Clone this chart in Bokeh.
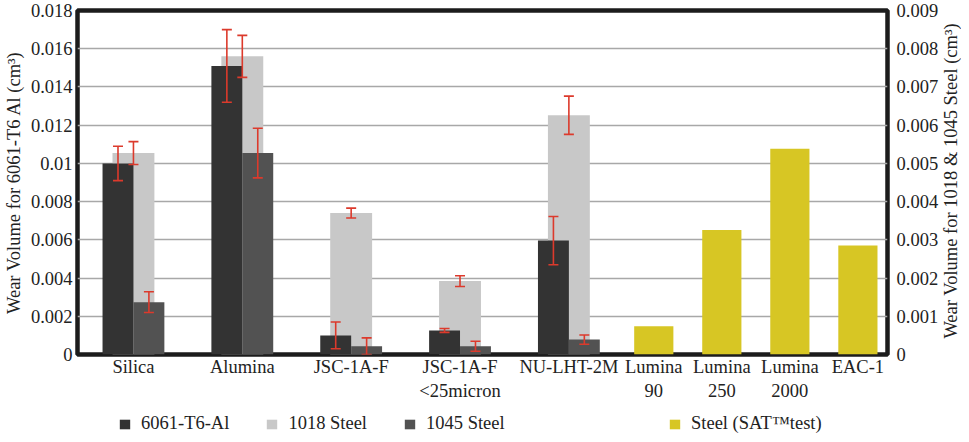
import math
from bokeh.plotting import figure
from bokeh.layouts import column, row
from bokeh.models import (ColumnDataSource, Range1d, LinearAxis, FixedTicker, Whisker,
                          TeeHead, Legend, LegendItem)
from bokeh.core.properties import value
from bokeh.embed import file_html
from bokeh.resources import INLINE

# ---------------- data ----------------
categories = ["Silica", "Alumina", "JSC-1A-F", "JSC-1A-F\n<25micron", "NU-LHT-2M"]
sat_categories = ["Lumina\n90", "Lumina\n250", "Lumina\n2000", "EAC-1"]

al6061 = [0.0100, 0.0151, 0.0010, 0.00126, 0.00596]          # left axis
al6061_err = [0.0009, 0.0019, 0.0007, 0.0001, 0.00126]
st1018 = [0.00527, 0.0078, 0.0037, 0.00192, 0.00626]          # right axis
st1018_err = [0.0003, 0.00055, 0.00013, 0.00014, 0.0005]
st1045 = [0.00137, 0.00527, 0.000215, 0.000215, 0.00039]      # right axis
st1045_err = [0.00027, 0.00065, 0.00022, 0.00013, 0.00012]
sat_steel = [0.00074, 0.00326, 0.00538, 0.00285]              # right axis

left_ticks = [0, 0.002, 0.004, 0.006, 0.008, 0.010, 0.012, 0.014, 0.016, 0.018]
left_tick_labels = ["0", "0.002", "0.004", "0.006", "0.008", "0.01", "0.012", "0.014", "0.016", "0.018"]
right_ticks = [0, 0.001, 0.002, 0.003, 0.004, 0.005, 0.006, 0.007, 0.008, 0.009]
right_tick_labels = ["0", "0.001", "0.002", "0.003", "0.004", "0.005", "0.006", "0.007", "0.008", "0.009"]

legend_labels = ["6061-T6-Al", "1018 Steel", "1045 Steel", "Steel (SAT\u2122test)"]
left_title = "Wear Volume for 6061-T6 Al (cm\u00b3)"
right_title = "Wear Volume for 1018 & 1045 Steel (cm\u00b3)"

# ---------------- layout / style ----------------
FONT = "Liberation Serif"
FS = "18.5px"
TXT = "#222222"
C_AL, C_1018, C_1045, C_SAT = "#333333", "#c8c8c8", "#525252", "#d7c624"
RED = "#dc3a2c"

min_x = [round(i * 1.0, 3) for i in range(len(categories))]
sat_x = [round(4.78 + 0.625 * j, 3) for j in range(len(sat_categories))]
half = 0.142

src_min = ColumnDataSource(dict(
    x=min_x,
    x_al=[v - half for v in min_x],
    x_45=[v + half for v in min_x],
    al=al6061, al_lo=[a - e for a, e in zip(al6061, al6061_err)], al_hi=[a + e for a, e in zip(al6061, al6061_err)],
    s18=st1018, s18_lo=[a - e for a, e in zip(st1018, st1018_err)], s18_hi=[a + e for a, e in zip(st1018, st1018_err)],
    s45=st1045, s45_lo=[max(0, a - e) for a, e in zip(st1045, st1045_err)], s45_hi=[a + e for a, e in zip(st1045, st1045_err)],
))
src_sat = ColumnDataSource(dict(x=sat_x, v=sat_steel))

P_W, P_H = 941, 412
p = figure(width=P_W, height=P_H, output_backend="svg", toolbar_location=None,
           x_range=Range1d(-0.514, 6.927), y_range=Range1d(0, 0.018),
           min_border_top=10, min_border_bottom=58, min_border_left=76, min_border_right=53)
p.extra_y_ranges = {"steel": Range1d(0, 0.009)}

p.background_fill_color = "white"
p.outline_line_color = "#1c1c1c"
p.outline_line_width = 4.5

p.xgrid.visible = False
p.ygrid.ticker = FixedTicker(ticks=left_ticks)
p.ygrid.grid_line_color = "#a8a8a8"
p.ygrid.grid_line_width = 1.4

r18 = p.vbar(x="x", top="s18", width=0.385, source=src_min, fill_color=C_1018, line_color=None,
             y_range_name="steel")
ral = p.vbar(x="x_al", top="al", width=0.284, source=src_min, fill_color=C_AL, line_color=None)
r45 = p.vbar(x="x_45", top="s45", width=0.284, source=src_min, fill_color=C_1045, line_color=None,
             y_range_name="steel")
rsat = p.vbar(x="x", top="v", width=0.36, source=src_sat, fill_color=C_SAT, line_color=None,
              y_range_name="steel")

def add_whisker(base, lo, hi, yr):
    kw = dict(source=src_min, base=base, lower=lo, upper=hi, line_color=RED, line_width=1.6,
              upper_head=TeeHead(size=10, line_color=RED, line_width=1.6),
              lower_head=TeeHead(size=10, line_color=RED, line_width=1.6),
              level="overlay")
    if yr:
        kw["y_range_name"] = yr
    p.add_layout(Whisker(**kw))

add_whisker("x_al", "al_lo", "al_hi", None)
add_whisker("x", "s18_lo", "s18_hi", "steel")
add_whisker("x_45", "s45_lo", "s45_hi", "steel")

def style_axis(ax):
    ax.axis_line_color = None
    ax.major_tick_line_color = None
    ax.minor_tick_line_color = None
    ax.major_tick_out = 0
    ax.major_tick_in = 0
    ax.minor_tick_out = 0
    ax.minor_tick_in = 0
    ax.major_label_text_font = FONT
    ax.major_label_text_font_size = FS
    ax.major_label_text_color = TXT
    ax.axis_label_text_font = FONT
    ax.axis_label_text_font_size = FS
    ax.axis_label_text_font_style = "normal"
    ax.axis_label_text_color = TXT

ya = p.yaxis[0]
ya.ticker = FixedTicker(ticks=left_ticks)
ya.major_label_overrides = dict(zip(left_ticks, left_tick_labels))
ya.axis_label = left_title
style_axis(ya)
ya.major_label_standoff = 5
ya.axis_label_standoff = 4

ry = LinearAxis(y_range_name="steel", ticker=FixedTicker(ticks=right_ticks),
                major_label_overrides=dict(zip(right_ticks, right_tick_labels)))
style_axis(ry)
ry.major_label_standoff = 9
p.add_layout(ry, "right")

xa = p.xaxis[0]
all_x = min_x + sat_x
all_labels = categories + sat_categories
xa.ticker = FixedTicker(ticks=all_x)
xa.major_label_overrides = dict(zip(all_x, all_labels))
style_axis(xa)
xa.major_label_standoff = 2

# ---- right-hand axis title (rotated, reading bottom-to-top) ----
T_W = 20
tf = figure(width=T_W, height=P_H, output_backend="svg", toolbar_location=None,
            x_range=Range1d(0, T_W), y_range=Range1d(0, P_H), min_border=0,
            x_axis_location=None, y_axis_location=None)
tf.outline_line_color = None
tf.grid.visible = False
tf.text(x=[T_W / 2 - 1], y=[P_H - 204], text=[right_title], angle=math.pi / 2,
        text_align="center", text_baseline="middle", text_font=value(FONT),
        text_font_size=FS, text_color=TXT)

# ---- legend row ----
L_H = 22
lf = figure(width=P_W + T_W, height=L_H, output_backend="svg", toolbar_location=None,
            x_range=Range1d(0, 1), y_range=Range1d(0, 1), min_border=0,
            x_axis_location=None, y_axis_location=None)
lf.outline_line_color = None
lf.grid.visible = False

def swatch(color):
    # single hidden bar (below the visible range) - only used for the legend swatch
    return lf.vbar(x=[0.5], top=[-1], bottom=[-2], width=0.1, fill_color=color, line_color=None)

d_al, d_18, d_45, d_sat = swatch(C_AL), swatch(C_1018), swatch(C_1045), swatch(C_SAT)

def make_legend(fig, items, loc):
    lg = Legend(items=items, orientation="horizontal", location=loc,
                border_line_color=None, background_fill_alpha=0, padding=0, margin=0,
                spacing=36, glyph_width=13, glyph_height=12, label_standoff=10,
                label_text_font=FONT, label_text_font_size=FS, label_text_color=TXT)
    fig.add_layout(lg)

make_legend(lf, [LegendItem(label=legend_labels[0], renderers=[d_al]),
                 LegendItem(label=legend_labels[1], renderers=[d_18]),
                 LegendItem(label=legend_labels[2], renderers=[d_45])], (118, 0))
make_legend(lf, [LegendItem(label=legend_labels[3], renderers=[d_sat])], (668, 0))

layout = column(row(p, tf), lf)
open("out.html", "w").write(file_html(layout, INLINE))
